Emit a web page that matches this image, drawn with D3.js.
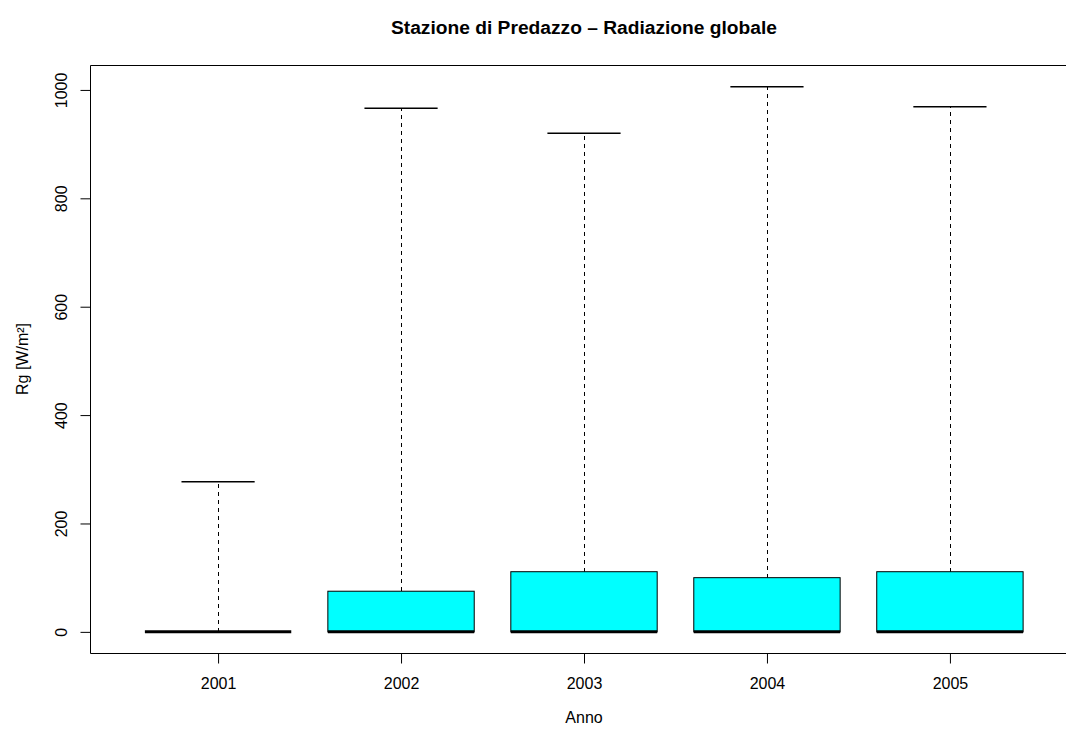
<!DOCTYPE html>
<html>
<head>
<meta charset="utf-8">
<script src="https://cdn.jsdelivr.net/npm/d3@7"></script>
<style>
  html, body { margin: 0; padding: 0; background: #fff; overflow: hidden; }
  svg { display: block; font-family: "Liberation Sans", Arial, Helvetica, sans-serif; }
</style>
</head>
<body>
<svg id="chart" width="1066" height="731"></svg>
<script>
// ---- data ----
const years = ["2001", "2002", "2003", "2004", "2005"];
const whiskerLow = [0, 0, 0, 0, 0];
const q1 = [0, 0, 0, 0, 0];
const median = [0, 0, 0, 0, 0];
const q3 = [0, 75, 111, 100, 111];
const whiskerHigh = [277, 966, 920, 1006, 969];
const yTicks = [0, 200, 400, 600, 800, 1000];
const titleText = "Stazione di Predazzo \u2013 Radiazione globale";
const xLabel = "Anno";
const yLabel = "Rg [W/m\u00B2]";

// ---- layout ----
const svg = d3.select("#chart");
const plot = { left: 90, right: 1078, top: 65, bottom: 653 };

const x = d3.scaleLinear().domain([0.3, 5.7]).range([plot.left, plot.right]);
const y = d3.scaleLinear().domain([-39, 1046]).range([plot.bottom, plot.top]);
const xr = v => Math.round(x(v)) + 0.5;

const data = years.map((yr, i) => ({
  year: yr, pos: i + 1,
  lo: whiskerLow[i], q1: q1[i], med: median[i], q3: q3[i], hi: whiskerHigh[i]
}));

const boxHalf = 0.4, capHalf = 0.2;

const g = svg.append("g");

// whiskers (dashed)
g.selectAll("line.wup").data(data).enter().append("line")
  .attr("x1", d => xr(d.pos)).attr("x2", d => xr(d.pos))
  .attr("y1", d => y(d.q3)).attr("y2", d => y(d.hi))
  .attr("stroke", "#000").attr("stroke-width", 1).attr("stroke-dasharray", "4,4")
  .attr("shape-rendering", "crispEdges");
g.selectAll("line.wdn").data(data).enter().append("line")
  .attr("x1", d => xr(d.pos)).attr("x2", d => xr(d.pos))
  .attr("y1", d => y(d.q1)).attr("y2", d => y(d.lo))
  .attr("stroke", "#000").attr("stroke-width", 1).attr("stroke-dasharray", "4,4")
  .attr("shape-rendering", "crispEdges");

// caps
g.selectAll("line.capHi").data(data).enter().append("line")
  .attr("x1", d => x(d.pos - capHalf)).attr("x2", d => x(d.pos + capHalf))
  .attr("y1", d => y(d.hi)).attr("y2", d => y(d.hi))
  .attr("stroke", "#000").attr("stroke-width", 1.5);
g.selectAll("line.capLo").data(data).enter().append("line")
  .attr("x1", d => x(d.pos - capHalf)).attr("x2", d => x(d.pos + capHalf))
  .attr("y1", d => y(d.lo)).attr("y2", d => y(d.lo))
  .attr("stroke", "#000").attr("stroke-width", 1.5);

// boxes
g.selectAll("rect.box").data(data).enter().append("rect")
  .attr("x", d => x(d.pos - boxHalf))
  .attr("width", d => x(d.pos + boxHalf) - x(d.pos - boxHalf))
  .attr("y", d => y(d.q3))
  .attr("height", d => y(d.q1) - y(d.q3))
  .attr("fill", "#00FFFF").attr("stroke", "#000").attr("stroke-width", 1);

// medians
g.selectAll("line.med").data(data).enter().append("line")
  .attr("x1", d => x(d.pos - boxHalf)).attr("x2", d => x(d.pos + boxHalf))
  .attr("y1", d => y(d.med)).attr("y2", d => y(d.med))
  .attr("stroke", "#000").attr("stroke-width", 3);

// plot frame (right side lies beyond the window)
svg.append("path")
  .attr("d", `M${plot.right},${plot.top + 0.5}H${plot.left + 0.5}V${plot.bottom + 0.5}H${plot.right}`)
  .attr("fill", "none").attr("stroke", "#000").attr("stroke-width", 1);

// x axis
const xAxis = d3.axisBottom(x)
  .tickValues(data.map(d => d.pos))
  .tickFormat((d, i) => years[i])
  .tickSize(10).tickPadding(14);
const gx = svg.append("g").attr("transform", `translate(0,${plot.bottom + 0.5})`).call(xAxis);
gx.select(".domain").remove();
gx.append("line").attr("x1", x(1)).attr("x2", x(years.length)).attr("y1", 0).attr("y2", 0)
  .attr("stroke", "#000");
gx.selectAll("text").attr("font-size", 16).attr("fill", "#000")
  .attr("font-family", "Liberation Sans, Arial, sans-serif");
gx.selectAll(".tick line").attr("stroke", "#000");

// y axis
const yAxis = d3.axisLeft(y).tickValues(yTicks).tickFormat(d3.format("d")).tickSize(10).tickPadding(10);
const gy = svg.append("g").attr("transform", `translate(${plot.left + 0.5},0)`).call(yAxis);
gy.select(".domain").remove();
gy.append("line").attr("x1", 0).attr("x2", 0).attr("y1", y(yTicks[0])).attr("y2", y(yTicks[yTicks.length - 1]))
  .attr("stroke", "#000");
gy.selectAll(".tick line").attr("stroke", "#000");
gy.selectAll(".tick text")
  .attr("font-size", 16).attr("fill", "#000")
  .attr("font-family", "Liberation Sans, Arial, sans-serif")
  .attr("x", null).attr("dy", null)
  .attr("text-anchor", "middle")
  .attr("transform", "translate(-29,0) rotate(-90)")
  .attr("dominant-baseline", "central");

// title
svg.append("text").attr("x", 584).attr("y", 34)
  .attr("text-anchor", "middle").attr("font-size", 19.2).attr("font-weight", "bold")
  .text(titleText);

// axis labels
svg.append("text").attr("x", 584).attr("y", 723)
  .attr("text-anchor", "middle").attr("font-size", 16).text(xLabel);
svg.append("text").attr("transform", `translate(28,${(plot.top + plot.bottom) / 2}) rotate(-90)`)
  .attr("text-anchor", "middle").attr("font-size", 16).text(yLabel);
</script>
</body>
</html>
